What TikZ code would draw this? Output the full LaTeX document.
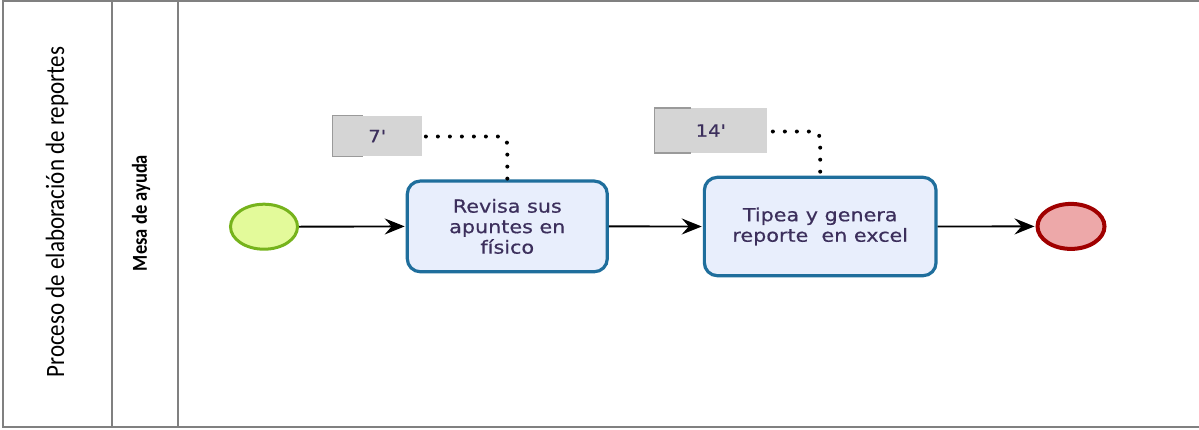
\documentclass[tikz,border=0pt]{standalone}
\usepackage{fontspec}
\usetikzlibrary{arrows.meta,shapes.geometric}
\newfontfamily\taskfont[FakeStretch=1.15,FakeBold=0.6]{DejaVu Sans}
\newfontfamily\lanefont{Carlito}
\definecolor{framegray}{HTML}{808080}
\definecolor{taskfill}{HTML}{E8EEFC}
\definecolor{taskdraw}{HTML}{1F6E9C}
\definecolor{startfill}{HTML}{E3FA9A}
\definecolor{startdraw}{HTML}{76B31C}
\definecolor{endfill}{HTML}{EDA8A9}
\definecolor{enddraw}{HTML}{A00000}
\definecolor{annfill}{HTML}{D5D5D5}
\definecolor{anndraw}{HTML}{9A9A9A}
\definecolor{txt}{HTML}{3C2F5C}
\tikzset{
  frameline/.style={draw=framegray, line width=1.7pt},
  task/.style={draw=taskdraw, fill=taskfill, line width=3.2pt, rounded corners=13pt,
    align=center, inner sep=0pt, text=txt,
    font=\taskfont\fontsize{18}{20.5}\selectfont},
  startev/.style={ellipse, draw=startdraw, fill=startfill, line width=3pt, inner sep=0pt,
    minimum width=67pt, minimum height=45pt},
  endev/.style={ellipse, draw=enddraw, fill=endfill, line width=4pt, inner sep=0pt,
    minimum width=67pt, minimum height=45pt},
  annot/.style={fill=annfill, inner sep=0pt, text=txt,
    font=\taskfont\fontsize{17}{19}\selectfont},
  flow/.style={draw=black, line width=1.9pt, -{Stealth[length=20pt, width=16pt, inset=7pt]}},
  dotline/.style={draw=black, line width=4pt, line cap=round, dash pattern=on 0pt off 12pt, rounded corners=8pt},
  lanelabel/.style={rotate=90, inner sep=0pt, text=black},
}
\begin{document}
\begin{tikzpicture}[x=1pt,y=-1pt]
\useasboundingbox (0,0) rectangle (1199,429);
% frame
\coordinate (tl) at (3,1);
\coordinate (tr) at (1199,1);
\coordinate (bl) at (3,427);
\coordinate (br) at (1199,427);
\draw[frameline] (tr) -- (tl) -- (bl) -- (br);
\draw[frameline] (112,1) -- (112,427);
\draw[frameline] (178,1) -- (178,427);
% lane labels
\node[lanelabel, font=\lanefont\fontsize{23}{23}\selectfont] (pool) at (57,212) {\scalebox{1}[1.15]{Proceso de elaboración de reportes}};
\node[lanelabel, font=\lanefont\bfseries\fontsize{18.5}{18.5}\selectfont] (lane) at (141,213) {\scalebox{1}[1.15]{Mesa de ayuda}};
% events and tasks
\node[startev] (s) at (264,226.7) {};
\node[task, minimum width=200pt, minimum height=90.7pt] (t1) at (507.3,226.4) {Revisa sus\\apuntes en\\físico};
\node[task, minimum width=231.7pt, minimum height=98.4pt] (t2) at (820.2,226.5) {Tipea y genera\\reporte\ \ en excel};
\node[endev] (e) at (1071,226.4) {};
% annotations
\node[annot, minimum width=89pt, minimum height=40.6pt] (a1) at (377.2,136) {7'};
\node[annot, minimum width=111.7pt, minimum height=44.4pt] (a2) at (710.8,130.5) {14'};
\draw[anndraw, line width=1.4pt] ([xshift=30pt]a1.north west) -- (a1.north west) -- (a1.south west) -- ([xshift=30pt]a1.south west);
\draw[anndraw, line width=1.4pt] ([xshift=36pt]a2.north west) -- (a2.north west) -- (a2.south west) -- ([xshift=36pt]a2.south west);
\draw[dotline] ([xshift=4pt,yshift=-0.5pt]a1.east) -| (t1.north);
\draw[dotline] ([xshift=6pt,yshift=-1pt]a2.east) -| (t2.north);
% flows
\draw[flow] (s.east) -- ([xshift=-1pt]t1.west);
\draw[flow] (t1.east) -- ([xshift=-1pt]t2.west);
\draw[flow] (t2.east) -- ([xshift=-1pt]e.west);
\end{tikzpicture}
\end{document}
